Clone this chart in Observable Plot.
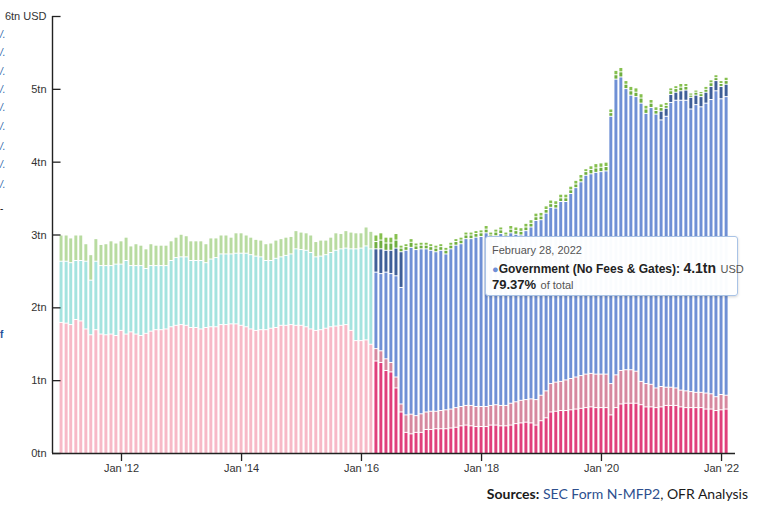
<!DOCTYPE html>
<html><head><meta charset="utf-8">
<script src="https://cdn.jsdelivr.net/npm/d3@7"></script>
<script src="https://cdn.jsdelivr.net/npm/@observablehq/plot@0.6"></script>
<style>
html,body{margin:0;padding:0;background:#fff}
body{width:768px;height:508px;overflow:hidden;position:relative;font-family:"Liberation Sans",Arial,sans-serif}
#chart{position:absolute;left:0;top:0}
#caption{position:absolute;left:0;top:485px;width:748px;text-align:right;font:14px Lato,"Open Sans",sans-serif;color:#1a1a1a;white-space:nowrap}
#caption b{font-weight:700}
#caption .src{color:#2d4f8e}
#tip{position:absolute;left:485px;top:236px;width:251px;height:58px;border:1px solid #a9c3e6;border-radius:3px;background:rgba(255,255,255,0.97);box-shadow:0 1px 3px rgba(0,0,0,0.18);color:#222;white-space:nowrap}
#tip .l1{position:absolute;left:6px;top:7px;font-size:11px;color:#555}
#tip .l2{position:absolute;left:6px;top:22px}
#tip .l3{position:absolute;left:6px;top:38px}
.clip{position:absolute;left:0;font:italic 10px Arial;color:#2a5fa8;line-height:12px}
</style></head><body>
<div id="chart"></div>
<div class="clip" style="top:29px">/.</div>
<div class="clip" style="top:47px">/.</div>
<div class="clip" style="top:66px">/.</div>
<div class="clip" style="top:84px">/.</div>
<div class="clip" style="top:102px">/.</div>
<div class="clip" style="top:121px">/.</div>
<div class="clip" style="top:141px">/.</div>
<div class="clip" style="top:159px">/.</div>
<div class="clip" style="top:179px">/.</div>
<div class="clip" style="top:203px;color:#111;font-style:normal">-</div>
<div class="clip" style="top:329px;font-style:normal;font-weight:bold;color:#1f4f9c">f</div>
<div id="tip">
  <div class="l1" id="tipDate"></div>
  <div class="l2"><span style="color:#6e8fd6;font-size:11px">●</span><b style="font-size:12px">Government (No Fees &amp; Gates): </b><b style="font-size:14px" id="tipVal"></b> <span style="font-size:11px;color:#555">USD</span></div>
  <div class="l3"><b style="font-size:13px" id="tipPct"></b> <span style="font-size:11px;color:#555">of total</span></div>
</div>
<div id="caption"><b>Sources:</b> <span class="src">SEC Form N-MFP2</span>, OFR Analysis</div>
<script>
// ---- data (trillions USD), monthly Jan 2011 .. Feb 2022 ----
const firstMonth = "2011-01-01";
const lastMonth = "2022-02-01";
const reformMonth = "2016-04-01"; // first month with post-reform categories

// pre-reform categories (Jan 2011 .. Mar 2016)
const prime = [1.80,1.79,1.77,1.84,1.82,1.71,1.63,1.70,1.64,1.63,1.64,1.62,1.69,1.64,1.67,1.64,1.62,1.65,1.68,1.70,1.70,1.71,1.74,1.76,1.77,1.76,1.73,1.73,1.71,1.73,1.74,1.74,1.77,1.77,1.78,1.78,1.76,1.74,1.71,1.69,1.70,1.70,1.72,1.73,1.76,1.76,1.77,1.76,1.76,1.74,1.71,1.69,1.70,1.72,1.74,1.75,1.76,1.77,1.69,1.55,1.55,1.56,1.50];
const government = [0.84,0.85,0.85,0.81,0.83,0.93,0.75,0.94,0.94,0.95,0.94,0.98,0.91,1.01,0.91,0.94,0.96,0.89,0.90,0.88,0.88,0.87,0.91,0.93,0.93,0.94,0.92,0.92,0.94,0.89,0.93,0.95,0.97,0.97,0.96,0.97,0.99,1.01,1.02,1.02,1.00,0.95,0.93,0.95,0.94,0.96,0.97,1.05,1.04,1.05,1.05,1.01,1.01,1.01,1.02,1.04,1.05,1.05,1.12,1.26,1.27,1.29,1.31];
const taxExempt = [0.36,0.36,0.34,0.35,0.35,0.24,0.35,0.31,0.29,0.30,0.34,0.29,0.32,0.32,0.27,0.30,0.28,0.27,0.30,0.28,0.28,0.28,0.27,0.28,0.31,0.29,0.27,0.27,0.27,0.26,0.29,0.27,0.26,0.26,0.23,0.28,0.28,0.25,0.24,0.23,0.23,0.23,0.24,0.25,0.25,0.25,0.24,0.25,0.24,0.24,0.24,0.21,0.22,0.20,0.21,0.24,0.21,0.24,0.23,0.22,0.21,0.26,0.24];

// post-reform categories (Apr 2016 .. Feb 2022)
const primeRetail = [1.27,1.25,1.14,1.12,0.90,0.57,0.29,
 0.27,0.29,0.29,0.33,0.33,0.34,0.34,0.34,0.35,0.36,
 0.38,0.39,0.38,0.37,0.37,0.37,0.39,0.39,0.38,0.38,
 0.39,0.41,0.42,0.43,0.42,0.39,0.45,0.49,0.57,0.58,
 0.59,0.59,0.60,0.61,0.62,0.63,0.64,0.63,0.63,0.63,
 0.53,0.63,0.68,0.69,0.69,0.69,0.67,0.64,0.64,0.63,
 0.64,0.66,0.66,0.66,0.64,0.63,0.63,0.63,0.63,0.61,
 0.61,0.59,0.60,0.61];
const primeInstitutional = [0.17,0.16,0.16,0.13,0.15,0.11,0.24,
 0.27,0.23,0.255,0.24,0.25,0.24,0.25,0.26,0.26,0.27,
 0.265,0.27,0.28,0.275,0.275,0.275,0.27,0.28,0.28,0.28,
 0.30,0.30,0.31,0.31,0.33,0.35,0.35,0.37,0.39,0.40,
 0.40,0.42,0.43,0.44,0.45,0.46,0.46,0.46,0.46,0.46,
 0.43,0.45,0.46,0.46,0.46,0.44,0.32,0.32,0.31,0.27,
 0.28,0.25,0.25,0.24,0.23,0.23,0.22,0.21,0.21,0.22,
 0.21,0.19,0.21,0.19];
const govNoFeesGates = [1.05,1.06,1.19,1.22,1.39,1.60,2.26,
 2.29,2.28,2.265,2.24,2.21,2.19,2.20,2.14,2.20,2.23,
 2.235,2.29,2.29,2.325,2.335,2.385,2.29,2.32,2.36,2.29,
 2.34,2.30,2.27,2.32,2.36,2.46,2.41,2.44,2.42,2.39,
 2.47,2.45,2.54,2.60,2.66,2.73,2.74,2.77,2.78,2.79,
 3.67,4.06,4.03,3.86,3.77,3.77,3.82,3.71,3.80,3.76,
 3.66,3.72,3.91,3.95,3.98,3.99,3.88,3.95,3.92,3.98,
 4.04,4.20,4.06,4.10];
const govFeesGates = [0.32,0.34,0.30,0.32,0.38,0.49,0,
 0,0,0,0,0,0,0,0,0,0,
 0,0,0,0,0,0,0,0,0,0,
 0,0,0,0,0,0,0,0,0,0,
 0,0,0,0,0,0,0,0,0,0,
 0,0,0,0,0,0,0,0,0,0,
 0.12,0.11,0.11,0.11,0.13,0.14,0.16,0.13,0.14,0.15,
 0.18,0.14,0.17,0.17];
const taxExemptA = [0.10,0.12,0.10,0.10,0.11,0.05,0.05,
 0.07,0.05,0.05,0.05,0.05,0.05,0.05,0.05,0.05,0.05,
 0.05,0.05,0.05,0.05,0.05,0.05,0.05,0.05,0.05,0.05,
 0.05,0.05,0.05,0.05,0.05,0.05,0.05,0.05,0.05,0.05,
 0.05,0.05,0.05,0.05,0.05,0.05,0.06,0.06,0.06,0.06,
 0.05,0.06,0.07,0.06,0.06,0.06,0.07,0.06,0.06,0.05,
 0.05,0.04,0.05,0.05,0.05,0.05,0.03,0.04,0.04,0.04,
 0.05,0.04,0.04,0.05];
const taxExemptB = [0.09,0.10,0.08,0.08,0.09,0.04,0.04,
 0.05,0.04,0.04,0.04,0.04,0.04,0.04,0.04,0.04,0.04,
 0.04,0.04,0.04,0.04,0.04,0.05,0.04,0.04,0.04,0.04,
 0.05,0.05,0.05,0.05,0.05,0.05,0.05,0.05,0.05,0.05,
 0.05,0.05,0.05,0.05,0.05,0.04,0.05,0.06,0.06,0.06,
 0.05,0.06,0.06,0.05,0.06,0.06,0.06,0.05,0.05,0.05,
 0.05,0.04,0.04,0.04,0.05,0.04,0.03,0.03,0.03,0.04,
 0.04,0.04,0.04,0.0457];

const seriesNames = ["Prime","Government","Tax-Exempt","Prime Retail","Prime Institutional","Government (No Fees & Gates)","Government (Fees & Gates)","Tax-Exempt (A)","Tax-Exempt (B)"];
const seriesColors = ["#f7b9c7","#a4e3df","#b8dba0","#e03f7b","#d6889f","#6f90d5","#3f5f98","#6fae40","#86c04f"];
const yTicks = [0,1,2,3,4,5,6];
const xTickYears = [2012,2014,2016,2018,2020,2022];

// ---- build table ----
const months = d3.utcMonths(new Date(firstMonth), d3.utcMonth.offset(new Date(lastMonth),1));
const reformIdx = months.findIndex(d => +d === +new Date(reformMonth));
const rows = [];
const totals = [];
months.forEach((date, i) => {
  let segs;
  if (i < reformIdx) {
    segs = [[0, prime[i]],[1, government[i]],[2, taxExempt[i]]];
  } else {
    const j = i - reformIdx;
    segs = [[3, primeRetail[j]],[4, primeInstitutional[j]],[5, govNoFeesGates[j]],[6, govFeesGates[j]],[7, taxExemptA[j]],[8, taxExemptB[j]]];
  }
  let y = 0;
  for (const [k, v] of segs) {
    if (v > 0) rows.push({date, series: seriesNames[k], y1: y, y2: y + v});
    y += v;
  }
  totals.push(y);
});

const xStart = new Date("2010-11-07"), xEnd = new Date("2022-03-27");
const xTicks = xTickYears.map(y => new Date(Date.UTC(y,0,1)));

const chart = Plot.plot({
  width: 768, height: 478,
  marginTop: 16, marginLeft: 52, marginRight: 33, marginBottom: 25,
  x: {type: "utc", domain: [xStart, xEnd]},
  y: {domain: [0, 6]},
  color: {domain: seriesNames, range: seriesColors},
  style: {fontFamily: "'Liberation Sans', Arial, sans-serif", fontSize: "11px", color: "#333", background: "transparent", overflow: "visible"},
  marks: [
    Plot.rect(rows, {
      x1: d => d3.utcDay.offset(d.date, -9),
      x2: d => d3.utcDay.offset(d.date, 9),
      y1: "y1", y2: "y2", fill: "series", insetTop: 1
    }),
    Plot.ruleY([0], {stroke: "#222", strokeWidth: 1.4}),
    Plot.ruleX([xStart], {y1: 0, y2: 6, stroke: "#222", strokeWidth: 1.4}),
    Plot.ruleY(yTicks, {x1: xStart, x2: d3.utcDay.offset(xStart, 52), stroke: "#222", strokeWidth: 1.3}),
    Plot.axisY(yTicks, {tickSize: 0, tickPadding: 6, label: null, tickFormat: d => d === 6 ? "6tn USD" : d + "tn"}),
    Plot.axisX(xTicks, {tickSize: 8, tickPadding: 3, label: null, stroke: "#222", strokeWidth: 1.3, tickFormat: d => "Jan '" + String(d.getUTCFullYear()).slice(2)})
  ]
});
document.getElementById("chart").appendChild(chart);

// tooltip content from the last month
const li = months.length - 1;
const govLast = govNoFeesGates[li - reformIdx];
document.getElementById("tipDate").textContent = d3.utcFormat("%B %-d, %Y")(d3.utcDay.offset(d3.utcMonth.offset(months[li],1),-1));
document.getElementById("tipVal").textContent = d3.format(".2~")(govLast) + "tn";
document.getElementById("tipPct").textContent = (govLast / totals[li] * 100).toFixed(2) + "%";
</script>
</body></html>
